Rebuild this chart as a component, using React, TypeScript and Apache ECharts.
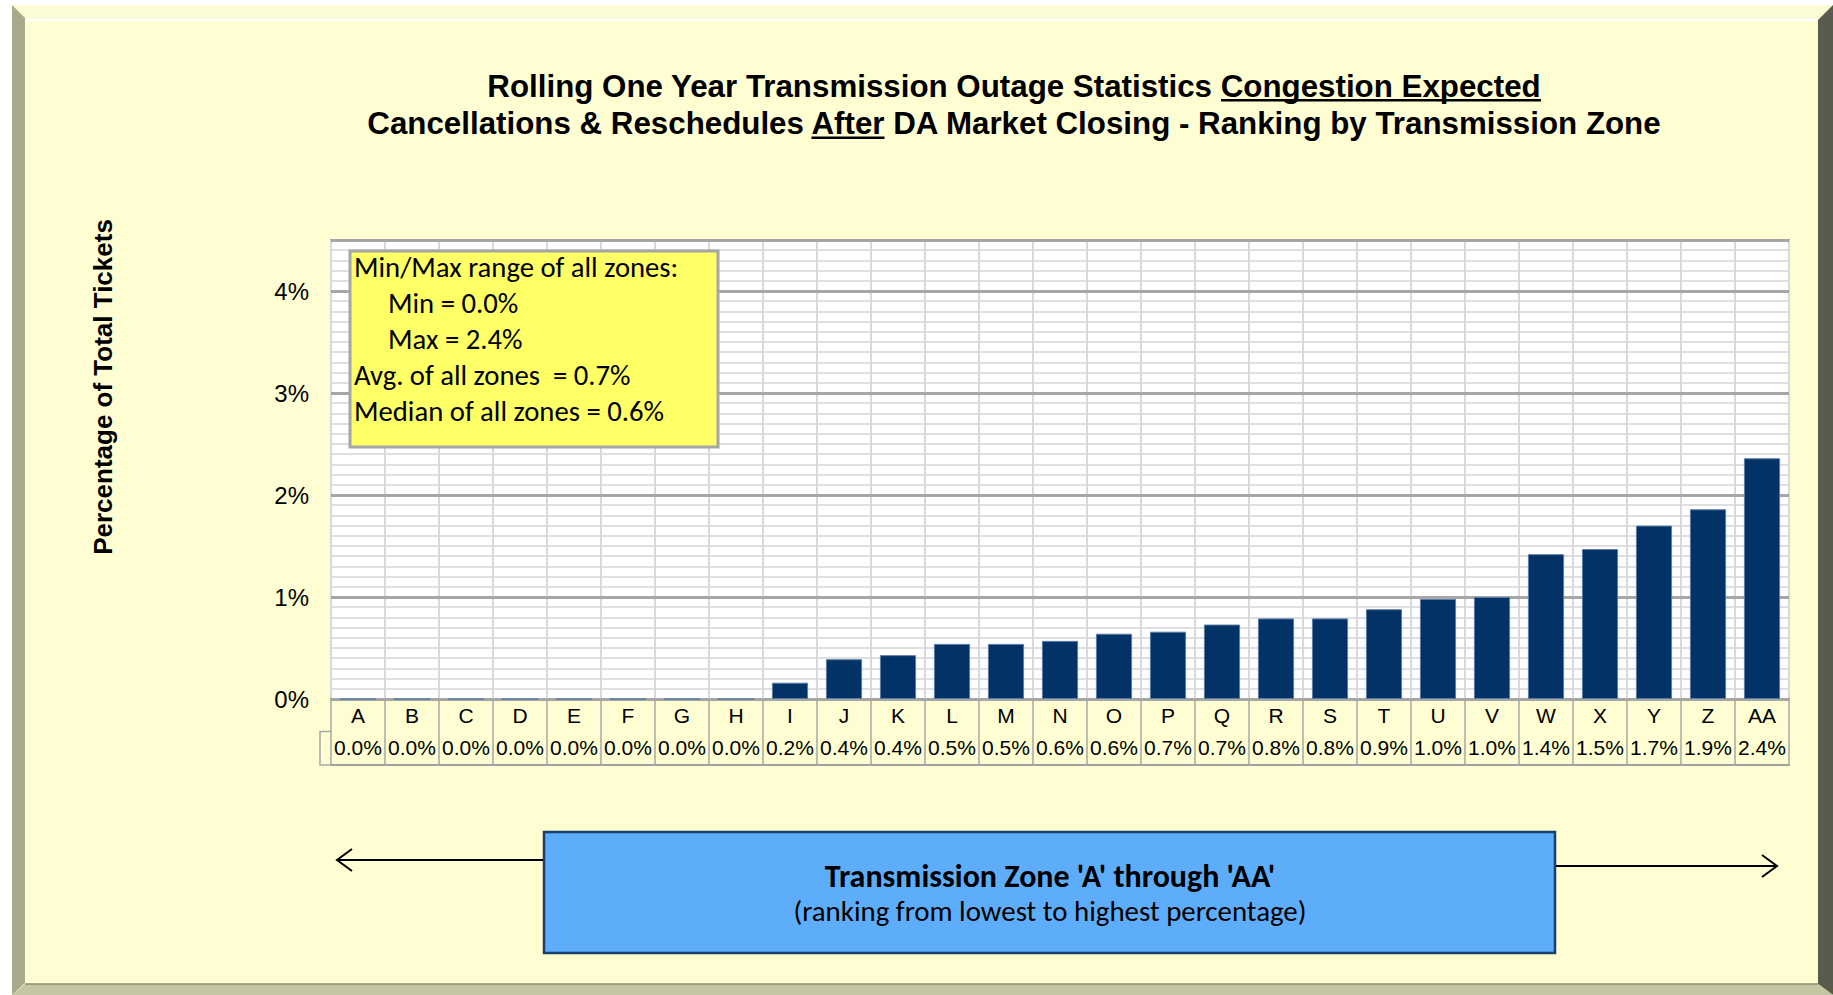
import React, { useEffect, useRef } from 'react';
import * as echarts from 'echarts';

const categories = ['A', 'B', 'C', 'D', 'E', 'F', 'G', 'H', 'I', 'J', 'K', 'L', 'M', 'N', 'O', 'P', 'Q', 'R', 'S', 'T', 'U', 'V', 'W', 'X', 'Y', 'Z', 'AA'];
const values = [0, 0, 0, 0, 0, 0, 0, 0, 0.16, 0.39, 0.43, 0.54, 0.54, 0.57, 0.64, 0.66, 0.73, 0.79, 0.79, 0.88, 0.98, 1.0, 1.42, 1.47, 1.70, 1.86, 2.36];
const valueLabels = ['0.0%', '0.0%', '0.0%', '0.0%', '0.0%', '0.0%', '0.0%', '0.0%', '0.2%', '0.4%', '0.4%', '0.5%', '0.5%', '0.6%', '0.6%', '0.7%', '0.7%', '0.8%', '0.8%', '0.9%', '1.0%', '1.0%', '1.4%', '1.5%', '1.7%', '1.9%', '2.4%'];
const yTickLabels = ['0%', '1%', '2%', '3%', '4%'];

const titleLine1 = ['Rolling One Year Transmission Outage Statistics ', 'Congestion Expected'];
const titleLine2 = ['Cancellations & Reschedules ', 'After', ' DA Market Closing - Ranking by Transmission Zone'];
const yAxisTitle = 'Percentage of Total Tickets';
const statLines = ['Min/Max range of all zones:', 'Min = 0.0%', 'Max = 2.4%', 'Avg. of all zones  = 0.7%', 'Median of all zones = 0.6%'];
const statIndent = [false, true, true, false, false];
const footerLine1 = "Transmission Zone 'A' through 'AA'";
const footerLine2 = '(ranking from lowest to highest percentage)';

const ARIAL = 'Liberation Sans, Arial, Helvetica, sans-serif';
const CALIBRI = 'Carlito, Calibri, Open Sans, sans-serif';

export default function App() {
  const ref = useRef<HTMLDivElement>(null);

  useEffect(() => {
    if (!ref.current) return;
    const chart = echarts.init(ref.current, undefined, { renderer: 'svg' });

    const canvas = document.createElement('canvas');
    const ctx = canvas.getContext('2d')!;
    const mw = (s: string, font: string) => { ctx.font = font; return ctx.measureText(s).width; };
    // choose a font size so a text spans the width it has in the reference
    const fit = (s: string, weight: string, family: string, target: number) => {
      const w = mw(s, `${weight} 20px ${family}`);
      return Math.round((20 * target / w) * 10) / 10;
    };

    const titleFont = `bold 31.3px ${ARIAL}`;
    const cx = 1014;
    const l1 = titleLine1.join('');
    const l2 = titleLine2.join('');
    const l1Start = cx - mw(l1, titleFont) / 2;
    const l2Start = cx - mw(l2, titleFont) / 2;
    const u1x = l1Start + mw(titleLine1[0], titleFont);
    const u1w = mw(titleLine1[1], titleFont);
    const u2x = l2Start + mw(titleLine2[0], titleFont);
    const u2w = mw(titleLine2[1], titleFont);

    const statSize = fit(statLines[0], 'normal', CALIBRI, 324);
    const foot1Size = fit(footerLine1, 'bold', CALIBRI, 450);
    const foot2Size = fit(footerLine2, 'normal', CALIBRI, 513);
    const statBaselines = [267, 303, 339, 375, 411];

    const graphic: any[] = [
      // frame
      { type: 'rect', z: -20, shape: { x: 12, y: 5, width: 1821, height: 990 }, style: { fill: '#FFFED2' } },
      { type: 'polygon', z: -19, shape: { points: [[12, 5], [1833, 5], [1818, 20], [25, 20]] }, style: { fill: '#FBFBD6' } },
      { type: 'line', z: -18, shape: { x1: 25, y1: 20, x2: 1818, y2: 20 }, style: { stroke: '#FFFFFF', lineWidth: 2 } },
      { type: 'polygon', z: -19, shape: { points: [[12, 5], [25, 18], [25, 983], [12, 995]] }, style: { fill: '#A9A98B' } },
      { type: 'polygon', z: -19, shape: { points: [[1833, 5], [1818, 20], [1818, 984], [1833, 995]] }, style: { fill: '#5A5B4D' } },
      { type: 'polygon', z: -19, shape: { points: [[12, 995], [25, 984], [1818, 984], [1833, 995]] }, style: { fill: '#C6C5A2' } },
      { type: 'line', z: -18, shape: { x1: 25, y1: 984, x2: 1818, y2: 984 }, style: { stroke: '#8F8E70', lineWidth: 1.5 } },
      // title
      { type: 'text', z: 5, x: cx, y: 86, style: { text: l1, font: titleFont, fill: '#000', align: 'center', verticalAlign: 'middle' } },
      { type: 'text', z: 5, x: cx, y: 123, style: { text: l2, font: titleFont, fill: '#000', align: 'center', verticalAlign: 'middle' } },
      { type: 'rect', z: 5, shape: { x: u1x, y: 99, width: u1w, height: 2.5 }, style: { fill: '#000' } },
      { type: 'rect', z: 5, shape: { x: u2x, y: 136.5, width: u2w, height: 2.5 }, style: { fill: '#000' } },
      // y axis title
      { type: 'text', z: 5, x: 103, y: 387, rotation: Math.PI / 2, style: { text: yAxisTitle, font: `bold 26px ${ARIAL}`, fill: '#000', align: 'center', verticalAlign: 'middle' } },
      // stats box
      { type: 'rect', z: 5, shape: { x: 350, y: 251, width: 368, height: 196 }, style: { fill: '#FFFF66', stroke: '#A6A6A6', lineWidth: 3 } },
      ...statLines.map((t, i) => ({
        type: 'text', z: 6, x: statIndent[i] ? 388 : 354, y: statBaselines[i],
        style: { text: t, font: `${statSize}px ${CALIBRI}`, fill: '#000', align: 'left', verticalAlign: 'middle' },
      })),
      // table stub
      { type: 'polyline', z: 3, shape: { points: [[331, 731.5], [320, 731.5], [320, 765], [331, 765]] }, style: { stroke: '#A6A6A6', lineWidth: 1.5, fill: null } },
      // footer box & arrows
      { type: 'rect', z: 5, shape: { x: 544, y: 832, width: 1011, height: 121 }, style: { fill: '#5DADFA', stroke: '#1B3F6B', lineWidth: 2.5 } },
      { type: 'text', z: 6, x: 1050, y: 876, style: { text: footerLine1, font: `bold ${foot1Size}px ${CALIBRI}`, fill: '#000', align: 'center', verticalAlign: 'middle' } },
      { type: 'text', z: 6, x: 1050, y: 911, style: { text: footerLine2, font: `${foot2Size}px ${CALIBRI}`, fill: '#000', align: 'center', verticalAlign: 'middle' } },
      { type: 'line', z: 5, shape: { x1: 543, y1: 860, x2: 337, y2: 860 }, style: { stroke: '#000', lineWidth: 2 } },
      { type: 'polyline', z: 5, shape: { points: [[352, 849], [337, 860], [352, 871]] }, style: { stroke: '#000', lineWidth: 2, fill: null } },
      { type: 'line', z: 5, shape: { x1: 1556, y1: 866, x2: 1777, y2: 866 }, style: { stroke: '#000', lineWidth: 2 } },
      { type: 'polyline', z: 5, shape: { points: [[1762, 855], [1777, 866], [1762, 877]] }, style: { stroke: '#000', lineWidth: 2, fill: null } },
    ];

    const option: any = {
      animation: false,
      backgroundColor: '#FFFFFF',
      grid: {
        left: 331, right: 44, top: 240, bottom: 296,
        show: true, backgroundColor: '#FFFFFF', borderColor: '#A6A6A6', borderWidth: 2,
      },
      xAxis: [
        {
          type: 'category', data: categories, position: 'bottom',
          axisLine: { show: true, lineStyle: { color: '#A0A0A0', width: 2 } },
          axisTick: { show: true, interval: 0, length: 66, lineStyle: { color: '#A6A6A6', width: 1.5 } },
          axisLabel: { interval: 0, fontSize: 21, fontFamily: ARIAL, color: '#000', margin: 6 },
          splitLine: { show: true, interval: 0, lineStyle: { color: '#D9D9D9', width: 2 } },
        },
        {
          type: 'category', data: valueLabels, position: 'bottom', offset: 32,
          axisLine: { show: true, lineStyle: { color: '#A0A0A0', width: 2 } },
          axisTick: { show: false },
          axisLabel: { interval: 0, fontSize: 21, fontFamily: ARIAL, color: '#000', margin: 6 },
          splitLine: { show: false },
        },
        {
          type: 'category', data: categories, position: 'bottom', offset: 66,
          axisLine: { show: true, lineStyle: { color: '#A0A0A0', width: 2 } },
          axisTick: { show: false },
          axisLabel: { show: false },
          splitLine: { show: false },
        },
      ],
      yAxis: [
        {
          type: 'value', min: 0, max: 4.5, interval: 1, z: 1,
          axisLine: { show: false }, axisTick: { show: false },
          axisLabel: {
            fontSize: 24, fontFamily: ARIAL, color: '#000', margin: 22,
            formatter: (v: number) => (Number.isInteger(v) && yTickLabels[v] !== undefined ? yTickLabels[v] : ''),
          },
          splitLine: { show: true, lineStyle: { color: '#A6A6A6', width: 3 } },
        },
        {
          type: 'value', min: 0, max: 4.5, interval: 0.1, z: 0,
          axisLine: { show: false }, axisTick: { show: false }, axisLabel: { show: false },
          splitLine: { show: true, lineStyle: { color: '#D4D4D4', width: 1.5 } },
        },
      ],
      series: [
        {
          type: 'bar', xAxisIndex: 0, yAxisIndex: 0, data: values, barCategoryGap: '33%', z: 3,
          itemStyle: { color: '#033266', borderColor: '#5A7CA6', borderWidth: 1 },
        },
      ],
      graphic: { elements: graphic },
    };

    chart.setOption(option);
    return () => chart.dispose();
  }, []);

  return <div ref={ref} style={{ position: 'fixed', left: 0, top: 0, width: 1833, height: 995 }} />;
}
